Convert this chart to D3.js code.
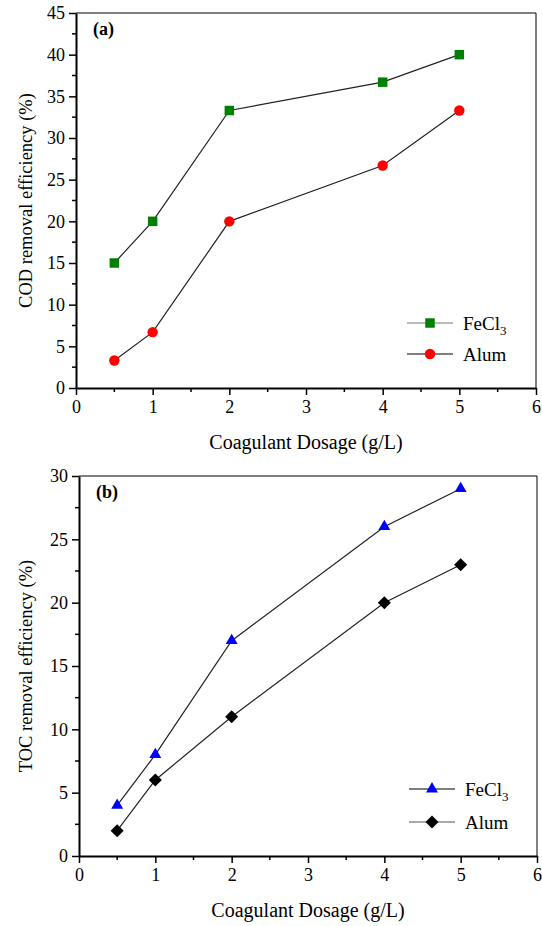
<!DOCTYPE html>
<html>
<head>
<meta charset="utf-8">
<script src="https://cdn.jsdelivr.net/npm/d3@7"></script>
<style>
  body { margin: 0; background: #fff; }
  svg { display: block; }
  svg text { font-family: "Liberation Serif", "Times New Roman", serif !important; }
</style>
</head>
<body>
<svg width="542" height="926"></svg>
<script>
const dose = [0.5, 1, 2, 4, 5];
const codFe = [15, 20, 33.3, 36.7, 40];
const codAlum = [3.3, 6.7, 20, 26.7, 33.3];
const tocFe = [4, 8, 17, 26, 29];
const tocAlum = [2, 6, 11, 20, 23];
const xTicks = [0, 1, 2, 3, 4, 5, 6];
const codTicks = [0, 5, 10, 15, 20, 25, 30, 35, 40, 45];
const tocTicks = [0, 5, 10, 15, 20, 25, 30];

const svg = d3.select("svg");
const diamond = { draw(ctx, size) { const r = Math.sqrt(size / 2); ctx.moveTo(0, -r); ctx.lineTo(r, 0); ctx.lineTo(0, r); ctx.lineTo(-r, 0); ctx.closePath(); } };

function panel(o) {
    const g = svg.append("g");
    const x = d3.scaleLinear().domain([0, 6]).range([o.left, o.right]);
    const y = d3.scaleLinear().domain([0, o.yMax]).range([o.bottom, o.top]);

    // thin top and right frame
    g.append("line").attr("x1", o.left).attr("x2", o.right).attr("y1", o.top).attr("y2", o.top)
        .attr("stroke", "#000").attr("stroke-width", 1);
    g.append("line").attr("x1", o.right).attr("x2", o.right).attr("y1", o.top).attr("y2", o.bottom)
        .attr("stroke", "#000").attr("stroke-width", 1);

    // minor ticks
    g.selectAll("line.xm").data(d3.range(0.5, 6, 1)).enter().append("line")
        .attr("x1", d => x(d)).attr("x2", d => x(d))
        .attr("y1", o.bottom).attr("y2", o.bottom + 4)
        .attr("stroke", "#000").attr("stroke-width", 1.5);
    g.selectAll("line.ym").data(d3.range(o.yStep / 2, o.yMax, o.yStep)).enter().append("line")
        .attr("x1", o.left - 4).attr("x2", o.left)
        .attr("y1", d => y(d)).attr("y2", d => y(d))
        .attr("stroke", "#000").attr("stroke-width", 1.5);

    const xa = g.append("g").attr("transform", `translate(0,${o.bottom})`)
        .call(d3.axisBottom(x).tickValues(xTicks).tickFormat(d3.format("d"))
            .tickSize(7).tickSizeOuter(0).tickPadding(5));
    xa.select(".domain").attr("stroke-width", 2);
    xa.selectAll(".tick line").attr("stroke-width", 1.5);
    xa.selectAll("text").attr("font-size", 18).attr("fill", "#000");

    const ya = g.append("g").attr("transform", `translate(${o.left},0)`)
        .call(d3.axisLeft(y).tickValues(o.yTicks).tickFormat(d3.format("d"))
            .tickSize(7).tickSizeOuter(0).tickPadding(4));
    ya.select(".domain").attr("stroke-width", 2);
    ya.selectAll(".tick line").attr("stroke-width", 1.5);
    ya.selectAll("text").attr("font-size", 18).attr("fill", "#000");

    // axis titles
    g.append("text").attr("x", (o.left + o.right) / 2).attr("y", o.bottom + 61)
        .attr("text-anchor", "middle").attr("font-size", 20).text("Coagulant Dosage (g/L)");
    g.append("text").attr("transform", `translate(32,${(o.top + o.bottom) / 2}) rotate(-90)`)
        .attr("text-anchor", "middle").attr("font-size", 18.5).text(o.yLabel);

    g.append("text").attr("x", o.left + 17).attr("y", o.top + 22)
        .attr("font-size", 18).attr("font-weight", "bold").text(o.tag);

    const line = d3.line().x(d => x(d[0])).y(d => y(d[1]));
    o.series.forEach(s => {
        const pts = dose.map((d, i) => [d, s.values[i]]);
        g.append("path").datum(pts).attr("d", line)
            .attr("fill", "none").attr("stroke", "#222").attr("stroke-width", 1.2);
        g.selectAll(null).data(pts).enter().append("path")
            .attr("transform", d => `translate(${x(d[0])},${y(d[1])})`)
            .attr("d", d3.symbol().type(s.symbol).size(s.size))
            .attr("fill", s.color);
    });

    // legend
    o.series.forEach((s, i) => {
        const lg = g.append("g").attr("transform", `translate(${o.legX},${o.legY + i * o.legGap})`);
        lg.append("line").attr("x1", 0).attr("x2", 46).attr("stroke", s.legStroke).attr("stroke-width", 1.2);
        lg.append("path").attr("transform", "translate(23,0)")
            .attr("d", d3.symbol().type(s.symbol).size(s.size)).attr("fill", s.color);
        const t = lg.append("text").attr("x", 56).attr("y", 7).attr("font-size", 19);
        if (s.name === "FeCl3") {
            t.append("tspan").text("FeCl");
            t.append("tspan").attr("dy", 5).attr("font-size", 13).text("3");
        } else {
            t.text(s.name);
        }
    });
}

panel({
    left: 76, right: 536, top: 13, bottom: 388,
    yMax: 45, yStep: 5, yTicks: codTicks,
    yLabel: "COD removal efficiency (%)", tag: "(a)",
    legX: 407, legY: 323, legGap: 31,
    series: [
        { name: "FeCl3", values: codFe, symbol: d3.symbolSquare, size: 90, color: "#008000", legStroke: "#777" },
        { name: "Alum", values: codAlum, symbol: d3.symbolCircle, size: 85, color: "#ff0000", legStroke: "#000" }
    ]
});

panel({
    left: 79, right: 537, top: 476, bottom: 856,
    yMax: 30, yStep: 5, yTicks: tocTicks,
    yLabel: "TOC removal efficiency (%)", tag: "(b)",
    legX: 409, legY: 789, legGap: 33,
    series: [
        { name: "FeCl3", values: tocFe, symbol: d3.symbolTriangle, size: 62, color: "#0000ff", legStroke: "#000" },
        { name: "Alum", values: tocAlum, symbol: diamond, size: 85, color: "#000", legStroke: "#555" }
    ]
});
</script>
</body>
</html>
